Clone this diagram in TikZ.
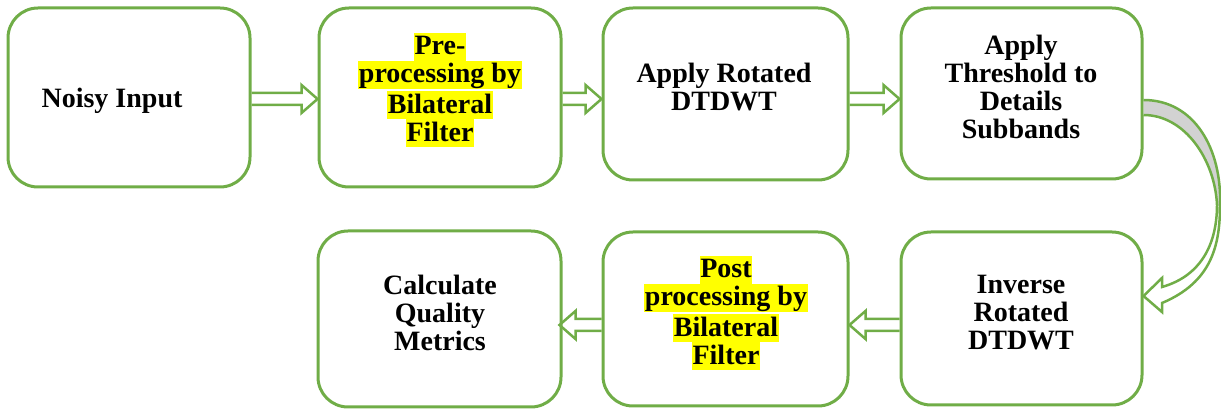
\documentclass[tikz,border=0pt]{standalone}
\usepackage{fontspec}
\setmainfont{Liberation Serif}
\usetikzlibrary{calc}
\definecolor{grn}{HTML}{70AD47}
\definecolor{hly}{HTML}{FFFF00}
\newcommand{\hl}[1]{{\setlength{\fboxsep}{0pt}\colorbox{hly}{\rule[-3pt]{0pt}{14pt}\kern0.4pt#1\kern0.4pt}}}
\newcommand{\blockarrow}[2]{%
  \draw[blk] let \p1=(#1), \p2=(#2), \p3=($(#2)!8pt!(#1)$) in
    (\x1,\y1+3pt) -- (\x3,\y1+3pt) -- (\x3,\y1+7pt) -- (\x2,\y2)
    -- (\x3,\y1-7pt) -- (\x3,\y1-3pt) -- (\x1,\y1-3pt);}
\begin{document}
\begin{tikzpicture}[x=0.5pt,y=-0.5pt,
  box/.style={draw=grn, line width=1.5pt, rounded corners=15pt, inner sep=0pt},
  lbl/.style={font=\fontsize{14}{14}\selectfont\bfseries, align=center, inner sep=0pt},
  blk/.style={draw=grn, line width=1.25pt, line join=miter}]
\useasboundingbox (0,0) rectangle (1221,410);

% boxes
\node[box, minimum width=121pt, minimum height=89.5pt] (b1) at (129,97.5) {};
\node[box, minimum width=121pt, minimum height=89.5pt] (b2) at (440,97.5) {};
\node[box, minimum width=122.5pt, minimum height=86pt] (b3) at (725.5,94) {};
\node[box, minimum width=120.5pt, minimum height=85.5pt] (b4) at (1021.5,93.5) {};
\node[box, minimum width=121.5pt, minimum height=88pt] (b5) at (439.5,319) {};
\node[box, minimum width=122.5pt, minimum height=87pt] (b6) at (725.5,319) {};
\node[box, minimum width=120.5pt, minimum height=86.5pt] (b7) at (1021.5,318.5) {};

% labels
\node[lbl] (t1) at (112,101) {Noisy Input};
\node[lbl] (t2) at (440,90) {\hl{Pre-}\\\hl{processing by}\\\hl{Bilateral}\\\hl{Filter}};
\node[lbl] (t3) at (724,87) {Apply Rotated\\DTDWT};
\node[lbl] (t4) at (1021,87) {Apply\\Threshold to\\Details\\Subbands};
\node[lbl] (t5) at (440,313) {Calculate\\Quality\\Metrics};
\node[lbl] (t6) at (726,313) {\hl{Post}\\\hl{processing by}\\\hl{Bilateral}\\\hl{Filter}};
\node[lbl] (t7) at (1021,313) {Inverse\\Rotated\\DTDWT};

% straight block arrows
\coordinate (rowA) at (0,99);
\coordinate (rowB) at (0,325);
\coordinate (a1s) at (b1.east |- rowA);
\coordinate (a1e) at (b2.west |- rowA);
\coordinate (a2s) at (b2.east |- rowA);
\coordinate (a2e) at (b3.west |- rowA);
\coordinate (a3s) at (b3.east |- rowA);
\coordinate (a3e) at (b4.west |- rowA);
\coordinate (a6s) at (b7.west |- rowB);
\coordinate (a6e) at (b6.east |- rowB);
\coordinate (a5s) at (b6.west |- rowB);
\coordinate (a5e) at ([xshift=-1.5pt]b5.east |- rowB);
\blockarrow{a1s}{a1e}
\blockarrow{a2s}{a2e}
\blockarrow{a3s}{a3e}
\blockarrow{a6s}{a6e}
\blockarrow{a5s}{a5e}

% curved block arrow from b4 to b7
\coordinate (cs1) at (b4.east |- 0,100);
\coordinate (cs2) at (b4.east |- 0,115);
\coordinate (ct) at (b7.east |- 0,296);
\fill[gray!35] (cs1) .. controls (1195,100) and (1222,150) .. (1220,205)
  -- (1217,205) .. controls (1215,160) and (1185,115) .. (cs2) -- cycle;
\draw[blk] (cs1) .. controls (1195,100) and (1222,150) .. (1220,205)
  .. controls (1220,245) and (1212,282) .. (1162,303)
  -- (1162,312) -- (ct) -- (1162,278) -- (1162,287)
  .. controls (1204,275) and (1217,240) .. (1217,205)
  .. controls (1215,160) and (1185,115) .. (cs2);
\end{tikzpicture}
\end{document}
